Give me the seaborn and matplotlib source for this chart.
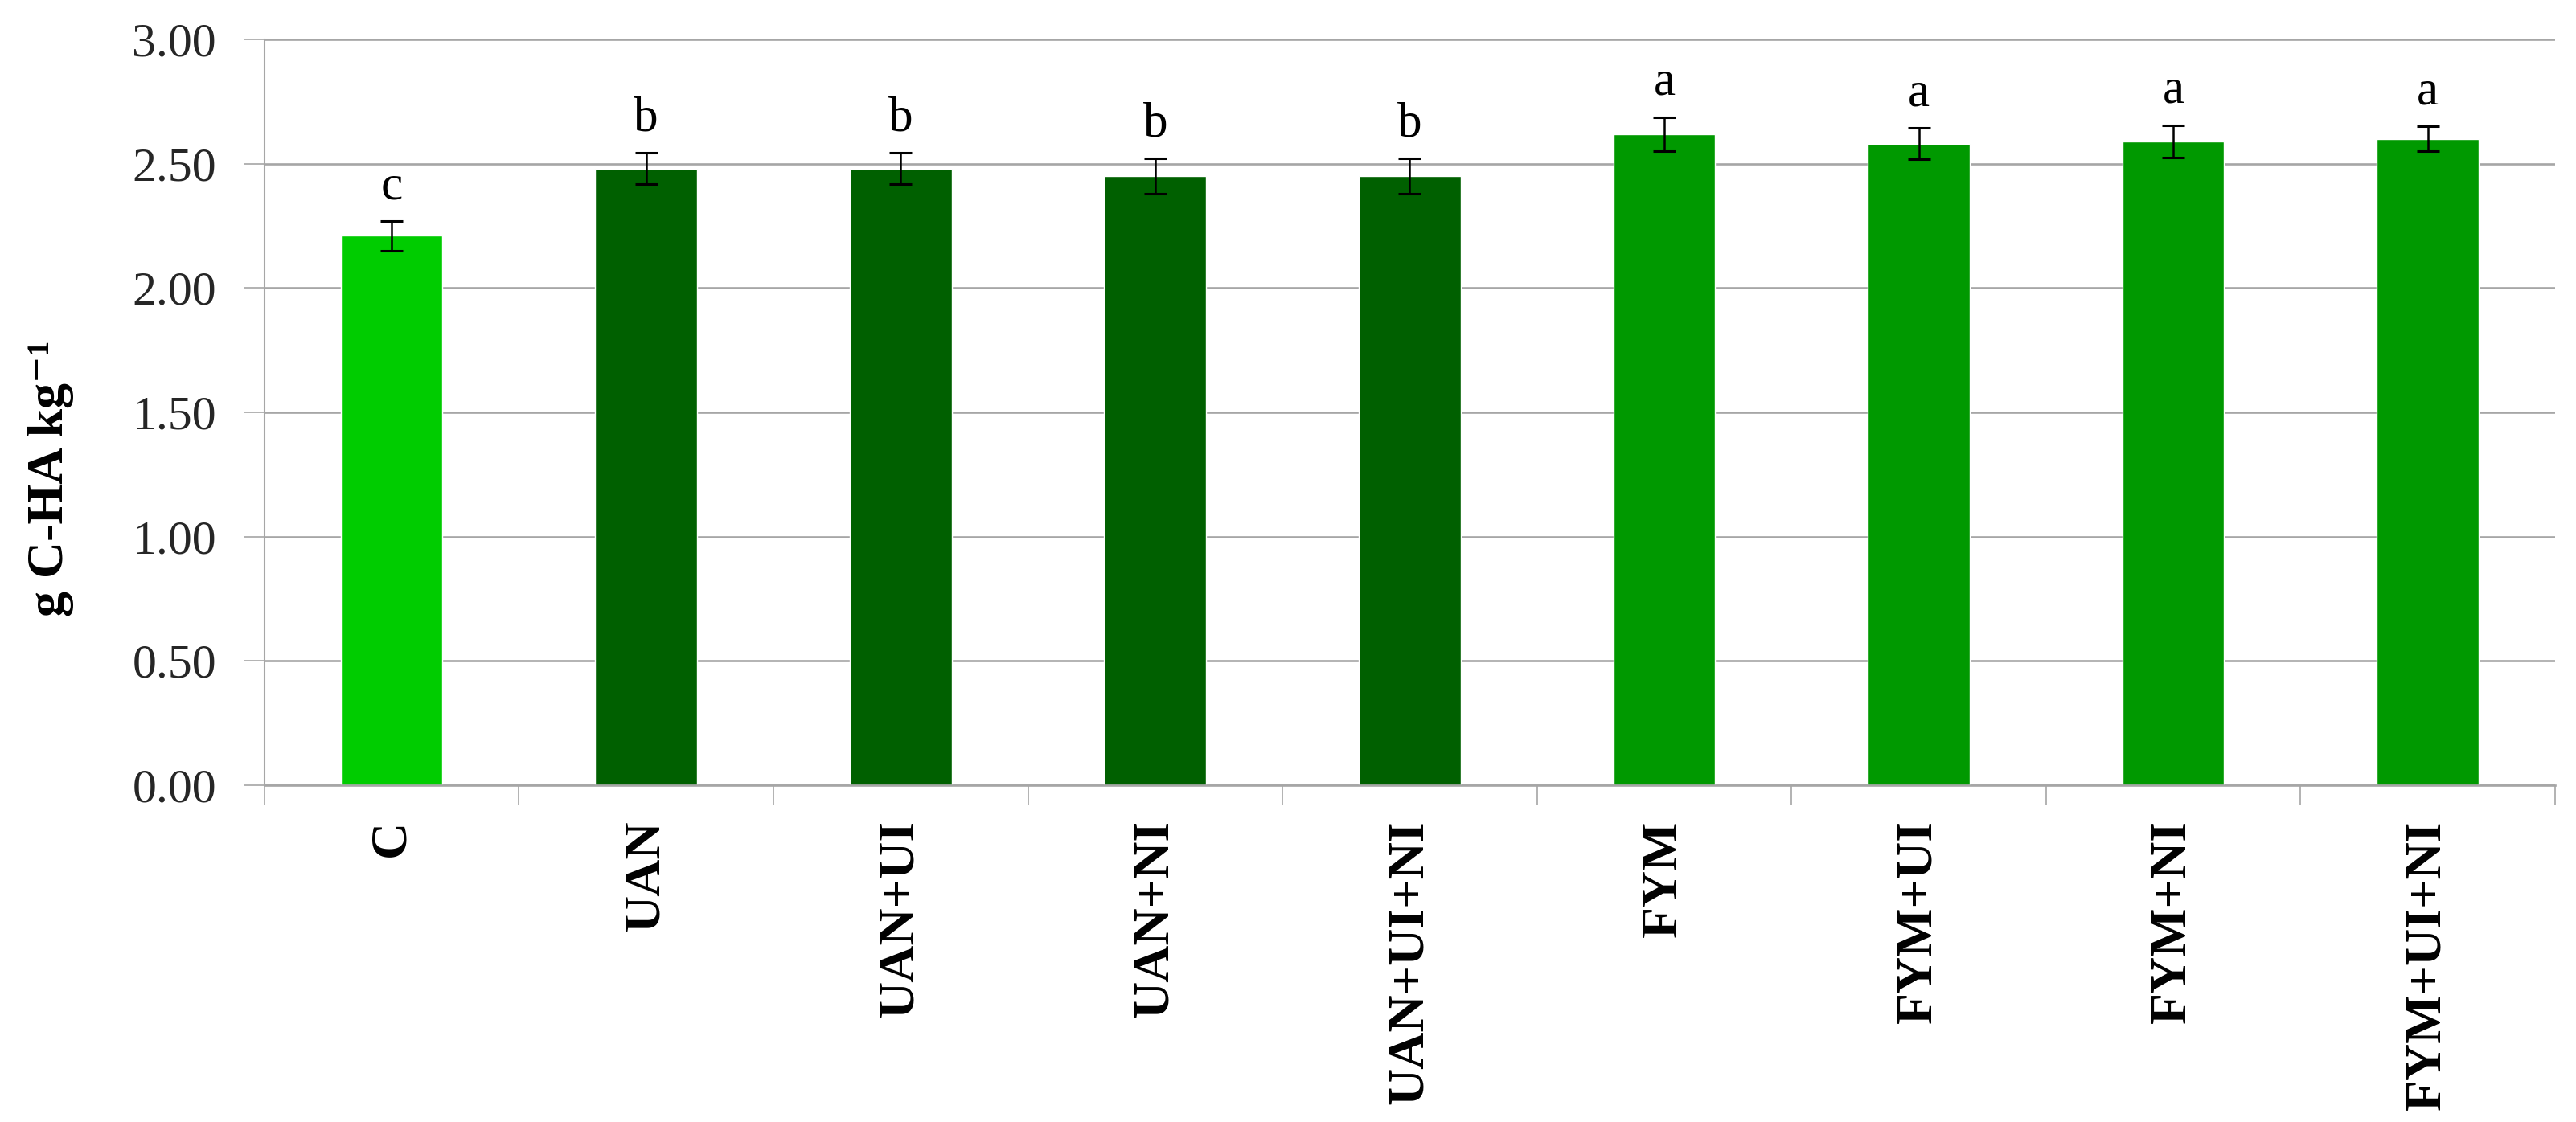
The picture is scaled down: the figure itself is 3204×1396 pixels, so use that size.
import matplotlib
matplotlib.use("Agg")
import matplotlib.pyplot as plt
import seaborn as sns
import pandas as pd
import numpy as np
from matplotlib.ticker import FormatStrFormatter

categories = ["C", "UAN", "UAN+UI", "UAN+NI", "UAN+UI+NI", "FYM", "FYM+UI", "FYM+NI", "FYM+UI+NI"]
values = [2.21, 2.48, 2.48, 2.45, 2.45, 2.62, 2.58, 2.59, 2.60]
errors = [0.06, 0.063, 0.063, 0.072, 0.072, 0.068, 0.063, 0.065, 0.05]
letters = ["c", "b", "b", "b", "b", "a", "a", "a", "a"]
bar_colors = ["#00CC00", "#006000", "#006000", "#006000", "#006000",
              "#009900", "#009900", "#009900", "#009900"]
y_ticks = [0.0, 0.5, 1.0, 1.5, 2.0, 2.5, 3.0]
y_label = "g C-HA kg\u207b\u00b9"

sns.set_theme(style="white")
plt.rcParams['font.family'] = ['Liberation Serif', 'DejaVu Serif']

grey = "#A6A6A6"
fig = plt.figure(figsize=(32.04, 13.96), dpi=100)
ax = fig.add_axes([0.1026, 0.3001, 0.8893, 0.6648])

df = pd.DataFrame({"cat": categories, "val": values})
sns.barplot(data=df, x="cat", y="val", hue="cat", palette=bar_colors,
            legend=False, width=0.4, ax=ax, saturation=1, errorbar=None)

xpos = np.arange(len(categories))
ax.errorbar(xpos, values, yerr=errors, fmt='none', ecolor='black',
            elinewidth=1.8, capsize=10, capthick=2.2, zorder=5)

for i, (v, e, l) in enumerate(zip(values, errors, letters)):
    ax.annotate(l, (i, v + e), xytext=(0, 20), textcoords='offset points',
                ha='center', va='baseline', fontsize=44, color='black')

ax.set_ylim(0, 3)
ax.set_xlim(-0.5, len(categories) - 0.5)
ax.set_yticks(y_ticks)
ax.yaxis.set_major_formatter(FormatStrFormatter('%.2f'))
ax.yaxis.grid(True, color=grey, linewidth=1.9)
ax.xaxis.grid(False)
ax.set_axisbelow(True)

for s in ["top", "right"]:
    ax.spines[s].set_visible(False)
ax.spines["left"].set_color(grey)
ax.spines["left"].set_linewidth(1.5)
ax.spines["bottom"].set_color(grey)
ax.spines["bottom"].set_linewidth(1.9)

ax.tick_params(axis='y', left=True, length=18, width=1.2, color=grey,
               pad=25, labelsize=43, direction='out', labelcolor='#262626')

ax.set_xticks(xpos)
ax.set_xticklabels(categories, rotation=90, fontweight='bold', fontsize=46,
                   va='top', ha='center')
ax.tick_params(axis='x', which='major', length=0, pad=31, labelcolor='black')
ax.set_xticks(np.arange(-0.5, len(categories), 1.0), minor=True)
ax.tick_params(axis='x', which='minor', bottom=True, length=17, width=1.2,
               color=grey, direction='out')

ax.set_xlabel("")
ax.set_ylabel("")
fig.text(63 / 3204, 1 - 595 / 1396, y_label, rotation=90, ha='center',
         va='center', fontsize=46, fontweight='bold', color='black')

fig.savefig("out.png", dpi=100)
